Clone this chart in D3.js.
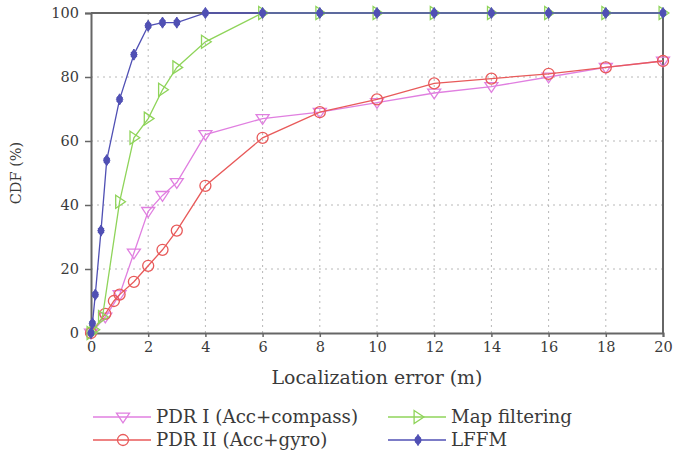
<!DOCTYPE html>
<html><head><meta charset="utf-8">
<script src="https://cdn.jsdelivr.net/npm/d3@7"></script>
<style>body{margin:0;background:#fff}svg{display:block}text{font-family:"DejaVu Serif",serif;fill:#3a3a3a}</style>
</head><body><svg id="c" width="673" height="459"></svg>
<script>
const xTicks = [0,2,4,6,8,10,12,14,16,18,20];
const yTicks = [0,20,40,60,80,100];
const pdr1X = [0,0.5,1,1.5,2,2.5,3,4,6,8,10,12,14,16,18,20];
const pdr1Y = [0,5,12,25,38,43,47,62,67,69,72,75,77,80,83,85];
const pdr2X = [0,0.5,0.8,1,1.5,2,2.5,3,4,6,8,10,12,14,16,18,20];
const pdr2Y = [0,6,10,12,16,21,26,32,46,61,69,73,78,79.5,81,83,85];
const mapX = [0,0.1,0.4,1,1.5,2,2.5,3,4,6,8,10,12,14,16,18,20];
const mapY = [0,1,5,41,61,67,76,83,91,100,100,100,100,100,100,100,100];
const lffmX = [0,0.05,0.15,0.35,0.55,1,1.5,2,2.5,3,4,6,8,10,12,14,16,18,20];
const lffmY = [0,3,12,32,54,73,87,96,97,97,100,100,100,100,100,100,100,100,100];
const seriesNames = ["PDR I (Acc+compass)","PDR II (Acc+gyro)","Map filtering","LFFM"];

const svg = d3.select("#c");
const x = d3.scaleLinear().domain([0,20]).range([91,663]);
const y = d3.scaleLinear().domain([0,100]).range([333,13]);

function fit(sel, target){
  const w = sel.node().getComputedTextLength();
  const fs = parseFloat(sel.attr("font-size"));
  sel.attr("font-size", fs*target/w);
}

// grid
const g = svg.append("g");
g.selectAll("line.vx").data(xTicks.slice(1,-1)).join("line")
  .attr("x1",d=>x(d)).attr("x2",d=>x(d)).attr("y1",y(0)).attr("y2",y(100))
  .attr("stroke","#b8b8b8").attr("stroke-width",1).attr("stroke-dasharray","2,4");
g.selectAll("line.hy").data(yTicks.slice(1,-1)).join("line")
  .attr("y1",d=>y(d)).attr("y2",d=>y(d)).attr("x1",x(0)).attr("x2",x(20))
  .attr("stroke","#b8b8b8").attr("stroke-width",1).attr("stroke-dasharray","2,4");

// axes
const xa = svg.append("g").attr("transform",`translate(0,${y(0)})`)
  .call(d3.axisBottom(x).tickValues(xTicks).tickSize(4).tickPadding(5));
const ya = svg.append("g").attr("transform",`translate(${x(0)},0)`)
  .call(d3.axisLeft(y).tickValues(yTicks).tickSize(6).tickPadding(6));
[xa,ya].forEach(a=>{
  a.attr("font-family",null);
  a.select(".domain").attr("stroke","#666").attr("stroke-width",2);
  a.selectAll(".tick line").attr("stroke","#666").attr("stroke-width",1.5);
  a.selectAll(".tick text").attr("font-size",14.5).attr("fill","#444");
});
// top and right frame
svg.append("line").attr("x1",x(0)).attr("x2",x(20)).attr("y1",y(100)).attr("y2",y(100)).attr("stroke","#666").attr("stroke-width",2);
svg.append("line").attr("x1",x(20)).attr("x2",x(20)).attr("y1",y(100)).attr("y2",y(0)).attr("stroke","#666").attr("stroke-width",2);

const xt = svg.append("text").attr("x",377).attr("y",384).attr("text-anchor","middle").attr("font-size",16).text("Localization error (m)");
fit(xt, 211);
svg.append("text").attr("transform","translate(21,173) rotate(-90)").attr("text-anchor","middle").attr("font-size",14.5).text("CDF (%)");

const series = [
  {name:seriesNames[0], xs:pdr1X, ys:pdr1Y, color:"#e07fe0", sym:"tdown"},
  {name:seriesNames[1], xs:pdr2X, ys:pdr2Y, color:"#e85a5a", sym:"circle"},
  {name:seriesNames[2], xs:mapX, ys:mapY, color:"#8fd45a", sym:"tright"},
  {name:seriesNames[3], xs:lffmX, ys:lffmY, color:"#5050b4", sym:"star"}
];

function marker(sel, sym, color, cx, cy){
  if(sym==="circle"){
    sel.append("circle").attr("cx",cx).attr("cy",cy).attr("r",5.5).attr("fill","none").attr("stroke",color).attr("stroke-width",1.3);
  } else if(sym==="tdown"){
    const s=6.5;
    sel.append("path").attr("d",`M${cx-s},${cy-s*0.6}L${cx+s},${cy-s*0.6}L${cx},${cy+s*0.9}Z`).attr("fill","none").attr("stroke",color).attr("stroke-width",1.3);
  } else if(sym==="tright"){
    const s=6.5;
    sel.append("path").attr("d",`M${cx-s*0.6},${cy-s}L${cx+s*0.9},${cy}L${cx-s*0.6},${cy+s}Z`).attr("fill","none").attr("stroke",color).attr("stroke-width",1.3);
  } else {
    sel.append("path").attr("d",d3.symbol().type(d3.symbolDiamond).size(36)()).attr("transform",`translate(${cx},${cy})`).attr("fill",color).attr("stroke",color).attr("stroke-width",1);
    sel.append("path").attr("d",d3.symbol().type(d3.symbolCross).size(30)()).attr("transform",`translate(${cx},${cy}) rotate(45)`).attr("fill",color);
  }
}

const line = d3.line();
series.forEach(s=>{
  const pts = s.xs.map((v,i)=>[x(v),y(s.ys[i])]);
  svg.append("path").attr("d",line(pts)).attr("fill","none").attr("stroke",s.color).attr("stroke-width",1.3);
  const mg = svg.append("g");
  pts.forEach(p=>marker(mg,s.sym,s.color,p[0],p[1]));
});

// legend
const leg = [
  {s:series[0], lx:93, ly:417, w:190},
  {s:series[1], lx:93, ly:440, w:168},
  {s:series[2], lx:388, ly:417, w:121},
  {s:series[3], lx:388, ly:440, w:null}
];
let legFont = null;
leg.forEach(l=>{
  const gg = svg.append("g");
  gg.append("line").attr("x1",l.lx).attr("x2",l.lx+58).attr("y1",l.ly).attr("y2",l.ly).attr("stroke",l.s.color).attr("stroke-width",1.3);
  marker(gg,l.s.sym,l.s.color,l.lx+30,l.ly);
  const t = gg.append("text").attr("x",l.lx+63).attr("y",l.ly+5.5).attr("font-size",16).text(l.s.name);
  if(l.s.name==="Map filtering"){ fit(t,121); legFont = t.attr("font-size"); }
});
svg.selectAll("g text").filter(function(){return seriesNames.includes(this.textContent);}).attr("font-size",legFont);
</script></body></html>
